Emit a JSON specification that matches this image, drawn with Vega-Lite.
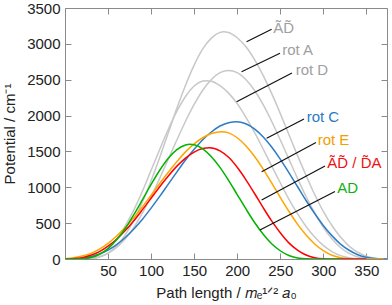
{
  "$schema": "https://vega.github.io/schema/vega-lite/v6.json",
  "width": 322,
  "height": 251,
  "autosize": {"type": "none"},
  "padding": {"left": 65, "top": 8, "right": 5, "bottom": 46},
  "config": {
    "font": "Liberation Sans",
    "view": {"stroke": "#8a8a8a", "strokeWidth": 1},
    "axis": {
      "grid": false,
      "domain": false,
      "tickColor": "#8a8a8a",
      "tickSize": -6,
      "labelFontSize": 15,
      "labelColor": "#222222",
      "titleFontSize": 15,
      "titleFontWeight": "normal",
      "titleColor": "#222222",
      "labelFont": "Liberation Sans",
      "titleFont": "Liberation Sans"
    }
  },
  "datasets": {
    "curves": [
      {"s":"AtDt","x":0,"y":0},{"s":"AtDt","x":20,"y":0},{"s":"AtDt","x":30,"y":6},{"s":"AtDt","x":40,"y":31},{"s":"AtDt","x":50,"y":83},{"s":"AtDt","x":60,"y":184},{"s":"AtDt","x":70,"y":337},{"s":"AtDt","x":80,"y":540},{"s":"AtDt","x":90,"y":796},{"s":"AtDt","x":100,"y":1091},{"s":"AtDt","x":110,"y":1416},{"s":"AtDt","x":120,"y":1759},{"s":"AtDt","x":130,"y":2104},{"s":"AtDt","x":140,"y":2423},{"s":"AtDt","x":150,"y":2704},{"s":"AtDt","x":160,"y":2929},{"s":"AtDt","x":170,"y":3080},{"s":"AtDt","x":180,"y":3160},{"s":"AtDt","x":184,"y":3170},{"s":"AtDt","x":190,"y":3159},{"s":"AtDt","x":200,"y":3085},{"s":"AtDt","x":210,"y":2962},{"s":"AtDt","x":220,"y":2783},{"s":"AtDt","x":230,"y":2564},{"s":"AtDt","x":240,"y":2309},{"s":"AtDt","x":250,"y":2031},{"s":"AtDt","x":260,"y":1736},{"s":"AtDt","x":270,"y":1445},{"s":"AtDt","x":280,"y":1165},{"s":"AtDt","x":290,"y":899},{"s":"AtDt","x":300,"y":663},{"s":"AtDt","x":310,"y":467},{"s":"AtDt","x":320,"y":306},{"s":"AtDt","x":330,"y":180},{"s":"AtDt","x":340,"y":94},{"s":"AtDt","x":350,"y":39},{"s":"AtDt","x":360,"y":12},{"s":"AtDt","x":370,"y":1},{"s":"AtDt","x":374,"y":0},

      {"s":"rotA","x":0,"y":0},{"s":"rotA","x":20,"y":0},{"s":"rotA","x":30,"y":8},{"s":"rotA","x":40,"y":29},{"s":"rotA","x":50,"y":78},{"s":"rotA","x":60,"y":160},{"s":"rotA","x":70,"y":282},{"s":"rotA","x":80,"y":442},{"s":"rotA","x":90,"y":642},{"s":"rotA","x":100,"y":871},{"s":"rotA","x":110,"y":1125},{"s":"rotA","x":120,"y":1393},{"s":"rotA","x":130,"y":1662},{"s":"rotA","x":140,"y":1921},{"s":"rotA","x":150,"y":2155},{"s":"rotA","x":160,"y":2353},{"s":"rotA","x":170,"y":2503},{"s":"rotA","x":180,"y":2598},{"s":"rotA","x":190,"y":2630},{"s":"rotA","x":200,"y":2598},{"s":"rotA","x":210,"y":2503},{"s":"rotA","x":220,"y":2353},{"s":"rotA","x":230,"y":2155},{"s":"rotA","x":240,"y":1921},{"s":"rotA","x":250,"y":1662},{"s":"rotA","x":260,"y":1393},{"s":"rotA","x":270,"y":1125},{"s":"rotA","x":280,"y":871},{"s":"rotA","x":290,"y":642},{"s":"rotA","x":300,"y":442},{"s":"rotA","x":310,"y":282},{"s":"rotA","x":320,"y":160},{"s":"rotA","x":330,"y":78},{"s":"rotA","x":340,"y":29},{"s":"rotA","x":350,"y":8},{"s":"rotA","x":360,"y":0},{"s":"rotA","x":374,"y":0},

      {"s":"rotD","x":0,"y":0},{"s":"rotD","x":10,"y":0},{"s":"rotD","x":20,"y":2},{"s":"rotD","x":30,"y":21},{"s":"rotD","x":40,"y":62},{"s":"rotD","x":50,"y":146},{"s":"rotD","x":60,"y":278},{"s":"rotD","x":70,"y":462},{"s":"rotD","x":80,"y":685},{"s":"rotD","x":90,"y":948},{"s":"rotD","x":100,"y":1237},{"s":"rotD","x":110,"y":1528},{"s":"rotD","x":120,"y":1810},{"s":"rotD","x":130,"y":2061},{"s":"rotD","x":140,"y":2266},{"s":"rotD","x":150,"y":2412},{"s":"rotD","x":160,"y":2481},{"s":"rotD","x":164,"y":2487},{"s":"rotD","x":170,"y":2478},{"s":"rotD","x":180,"y":2416},{"s":"rotD","x":190,"y":2313},{"s":"rotD","x":200,"y":2166},{"s":"rotD","x":210,"y":1979},{"s":"rotD","x":220,"y":1768},{"s":"rotD","x":230,"y":1537},{"s":"rotD","x":240,"y":1299},{"s":"rotD","x":250,"y":1063},{"s":"rotD","x":260,"y":836},{"s":"rotD","x":270,"y":632},{"s":"rotD","x":280,"y":454},{"s":"rotD","x":290,"y":306},{"s":"rotD","x":300,"y":190},{"s":"rotD","x":310,"y":104},{"s":"rotD","x":320,"y":47},{"s":"rotD","x":330,"y":17},{"s":"rotD","x":340,"y":3},{"s":"rotD","x":350,"y":0},{"s":"rotD","x":374,"y":0},

      {"s":"rotC","x":0,"y":0},{"s":"rotC","x":10,"y":2},{"s":"rotC","x":20,"y":12},{"s":"rotC","x":30,"y":32},{"s":"rotC","x":40,"y":70},{"s":"rotC","x":50,"y":124},{"s":"rotC","x":60,"y":201},{"s":"rotC","x":70,"y":299},{"s":"rotC","x":80,"y":419},{"s":"rotC","x":90,"y":555},{"s":"rotC","x":100,"y":710},{"s":"rotC","x":110,"y":873},{"s":"rotC","x":120,"y":1045},{"s":"rotC","x":130,"y":1214},{"s":"rotC","x":140,"y":1380},{"s":"rotC","x":150,"y":1529},{"s":"rotC","x":160,"y":1663},{"s":"rotC","x":170,"y":1771},{"s":"rotC","x":180,"y":1855},{"s":"rotC","x":190,"y":1901},{"s":"rotC","x":199,"y":1915},{"s":"rotC","x":210,"y":1886},{"s":"rotC","x":220,"y":1814},{"s":"rotC","x":230,"y":1704},{"s":"rotC","x":240,"y":1561},{"s":"rotC","x":250,"y":1392},{"s":"rotC","x":260,"y":1204},{"s":"rotC","x":270,"y":1011},{"s":"rotC","x":280,"y":816},{"s":"rotC","x":290,"y":634},{"s":"rotC","x":300,"y":468},{"s":"rotC","x":310,"y":326},{"s":"rotC","x":320,"y":208},{"s":"rotC","x":330,"y":122},{"s":"rotC","x":340,"y":60},{"s":"rotC","x":350,"y":23},{"s":"rotC","x":360,"y":6},{"s":"rotC","x":370,"y":1},{"s":"rotC","x":374,"y":0},

      {"s":"rotE","x":0,"y":4},{"s":"rotE","x":10,"y":16},{"s":"rotE","x":20,"y":42},{"s":"rotE","x":30,"y":79},{"s":"rotE","x":40,"y":138},{"s":"rotE","x":50,"y":218},{"s":"rotE","x":60,"y":320},{"s":"rotE","x":70,"y":438},{"s":"rotE","x":80,"y":577},{"s":"rotE","x":90,"y":728},{"s":"rotE","x":100,"y":889},{"s":"rotE","x":110,"y":1052},{"s":"rotE","x":120,"y":1209},{"s":"rotE","x":130,"y":1359},{"s":"rotE","x":140,"y":1494},{"s":"rotE","x":150,"y":1606},{"s":"rotE","x":160,"y":1691},{"s":"rotE","x":170,"y":1749},{"s":"rotE","x":182,"y":1775},{"s":"rotE","x":190,"y":1759},{"s":"rotE","x":200,"y":1691},{"s":"rotE","x":210,"y":1579},{"s":"rotE","x":220,"y":1432},{"s":"rotE","x":230,"y":1256},{"s":"rotE","x":240,"y":1060},{"s":"rotE","x":250,"y":860},{"s":"rotE","x":260,"y":666},{"s":"rotE","x":270,"y":486},{"s":"rotE","x":280,"y":334},{"s":"rotE","x":290,"y":210},{"s":"rotE","x":300,"y":116},{"s":"rotE","x":310,"y":52},{"s":"rotE","x":320,"y":18},{"s":"rotE","x":330,"y":4},{"s":"rotE","x":340,"y":0},{"s":"rotE","x":370,"y":0},

      {"s":"AtDA","x":0,"y":0},{"s":"AtDA","x":10,"y":5},{"s":"AtDA","x":20,"y":19},{"s":"AtDA","x":30,"y":52},{"s":"AtDA","x":40,"y":103},{"s":"AtDA","x":50,"y":179},{"s":"AtDA","x":60,"y":276},{"s":"AtDA","x":70,"y":396},{"s":"AtDA","x":80,"y":534},{"s":"AtDA","x":90,"y":688},{"s":"AtDA","x":100,"y":847},{"s":"AtDA","x":110,"y":1008},{"s":"AtDA","x":120,"y":1158},{"s":"AtDA","x":130,"y":1295},{"s":"AtDA","x":140,"y":1407},{"s":"AtDA","x":150,"y":1491},{"s":"AtDA","x":160,"y":1540},{"s":"AtDA","x":168,"y":1552},{"s":"AtDA","x":180,"y":1508},{"s":"AtDA","x":190,"y":1418},{"s":"AtDA","x":200,"y":1279},{"s":"AtDA","x":210,"y":1108},{"s":"AtDA","x":220,"y":917},{"s":"AtDA","x":230,"y":719},{"s":"AtDA","x":240,"y":531},{"s":"AtDA","x":250,"y":366},{"s":"AtDA","x":260,"y":225},{"s":"AtDA","x":270,"y":124},{"s":"AtDA","x":280,"y":55},{"s":"AtDA","x":290,"y":18},{"s":"AtDA","x":300,"y":3},{"s":"AtDA","x":310,"y":0},{"s":"AtDA","x":350,"y":0},

      {"s":"AD","x":0,"y":0},{"s":"AD","x":10,"y":0},{"s":"AD","x":20,"y":3},{"s":"AD","x":30,"y":20},{"s":"AD","x":40,"y":66},{"s":"AD","x":50,"y":145},{"s":"AD","x":60,"y":267},{"s":"AD","x":70,"y":425},{"s":"AD","x":80,"y":618},{"s":"AD","x":90,"y":827},{"s":"AD","x":100,"y":1039},{"s":"AD","x":110,"y":1238},{"s":"AD","x":120,"y":1405},{"s":"AD","x":130,"y":1526},{"s":"AD","x":140,"y":1591},{"s":"AD","x":145,"y":1600},{"s":"AD","x":150,"y":1592},{"s":"AD","x":160,"y":1536},{"s":"AD","x":170,"y":1426},{"s":"AD","x":180,"y":1278},{"s":"AD","x":190,"y":1097},{"s":"AD","x":200,"y":899},{"s":"AD","x":210,"y":701},{"s":"AD","x":220,"y":512},{"s":"AD","x":230,"y":348},{"s":"AD","x":240,"y":212},{"s":"AD","x":250,"y":115},{"s":"AD","x":260,"y":48},{"s":"AD","x":270,"y":15},{"s":"AD","x":280,"y":2},{"s":"AD","x":290,"y":0},{"s":"AD","x":320,"y":0}
    ],
    "leaders": [
      {"s":"AtDt","x":210.9,"y":3030,"x2":240,"y2":3203},
      {"s":"rotA","x":205.1,"y":2612,"x2":249.7,"y2":2869},
      {"s":"rotD","x":199.3,"y":2194,"x2":263.6,"y2":2594},
      {"s":"rotC","x":234.2,"y":1683,"x2":277.6,"y2":1952},
      {"s":"rotE","x":228.4,"y":1217,"x2":291.5,"y2":1625},
      {"s":"AtDA","x":228.4,"y":823,"x2":302,"y2":1297},
      {"s":"AD","x":226.4,"y":404,"x2":313.6,"y2":941}
    ],
    "labels": [
      {"s":"AtDt","label":"ÃD̃","x":241.9,"y":3145},
      {"s":"rotA","label":"rot A","x":252.3,"y":2845},
      {"s":"rotD","label":"rot D","x":267.9,"y":2566},
      {"s":"rotC","label":"rot C","x":280.7,"y":1915},
      {"s":"rotE","label":"rot E","x":293.5,"y":1590},
      {"s":"AtDA","label":"ÃD̃ / D̃A","x":304.7,"y":1265},
      {"s":"AD","label":"AD","x":316.3,"y":920}
    ]
  },
  "layer": [
    {
      "data": {"name": "curves"},
      "mark": {"type": "line", "strokeWidth": 1.5, "interpolate": "monotone", "clip": true},
      "encoding": {
        "x": {"field": "x", "type": "quantitative",
              "scale": {"domain": [0, 374], "nice": false, "zero": false},
              "axis": {"orient": "bottom", "values": [50,100,150,200,250,300,350], "format": "d", "title": "Path length / 𝑚ₑ¹ᐟ² 𝑎₀", "labelPadding": 10, "titlePadding": 7}},
        "y": {"field": "y", "type": "quantitative",
              "scale": {"domain": [0, 3500], "nice": false},
              "axis": {"orient": "left", "values": [0,500,1000,1500,2000,2500,3000,3500], "format": "d", "title": "Potential / cm⁻¹", "labelPadding": 11, "titlePadding": 9}},
        "color": {"field": "s", "type": "nominal", "legend": null,
                  "scale": {"domain": ["AtDt","rotA","rotD","rotC","rotE","AtDA","AD"],
                            "range": ["#c8c8c8","#c8c8c8","#c8c8c8","#2e7cc4","#ffa500","#ff0000","#00b400"]}}
      }
    },
    {
      "data": {"name": "leaders"},
      "mark": {"type": "rule", "color": "#111111", "strokeWidth": 1.2},
      "encoding": {
        "x": {"field": "x", "type": "quantitative",
              "axis": {"orient": "top", "values": [50,100,150,200,250,300,350], "labels": false, "title": null}},
        "y": {"field": "y", "type": "quantitative",
              "axis": {"orient": "right", "values": [0,500,1000,1500,2000,2500,3000,3500], "labels": false, "title": null}},
        "x2": {"field": "x2"},
        "y2": {"field": "y2"}
      }
    },
    {
      "data": {"name": "labels"},
      "mark": {"type": "text", "align": "left", "baseline": "alphabetic", "fontSize": 15, "font": "Liberation Sans"},
      "encoding": {
        "x": {"field": "x", "type": "quantitative", "axis": null},
        "y": {"field": "y", "type": "quantitative", "axis": null},
        "text": {"field": "label"},
        "color": {"field": "s", "type": "nominal", "legend": null,
                  "scale": {"domain": ["AtDt","rotA","rotD","rotC","rotE","AtDA","AD"],
                            "range": ["#a0a0a0","#a0a0a0","#a0a0a0","#2a7abf","#f0a000","#f01010","#10b010"]}}
      }
    }
  ],
  "resolve": {"scale": {"color": "independent"}, "axis": {"x": "independent", "y": "independent"}}
}
